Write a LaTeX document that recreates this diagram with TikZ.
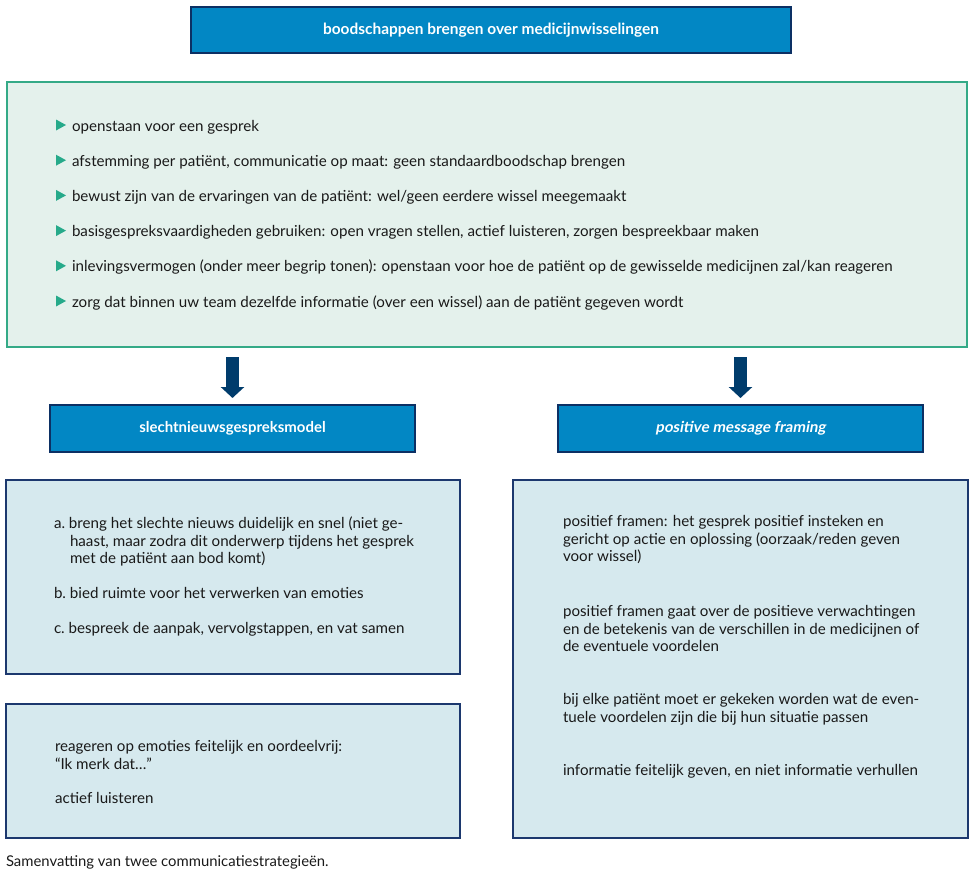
\documentclass[tikz,border=0pt]{standalone}
\usepackage{fontspec}
\setmainfont{Lato}
\newfontfamily\oblfont[FakeSlant=0.18]{Lato}
\usetikzlibrary{arrows.meta}
\definecolor{titleblue}{RGB}{2,135,196}
\definecolor{navy}{RGB}{12,48,100}
\definecolor{greenfill}{RGB}{228,241,236}
\definecolor{greenline}{RGB}{52,170,135}
\definecolor{bullet}{RGB}{38,170,138}
\definecolor{boxfill}{RGB}{214,233,238}
\definecolor{boxline}{RGB}{28,56,110}
\definecolor{arrowc}{RGB}{0,60,108}
\definecolor{txt}{RGB}{25,25,25}
\begin{document}
\begin{tikzpicture}[x=1bp,y=-1bp,
  every node/.style={inner sep=0pt, outer sep=0pt},
  headbox/.style={draw=navy, line width=1.8bp, fill=titleblue, text=white,
    font=\fontsize{15}{16}\selectfont\bfseries},
  greenbox/.style={draw=greenline, line width=1.8bp, fill=greenfill},
  contentbox/.style={draw=boxline, line width=1.8bp, fill=boxfill},
  bodytext/.style={text=txt, font=\fontsize{15.2}{17.5}\selectfont, align=left, anchor=north west},
  bulletline/.style={text=txt, font=\fontsize{15.2}{17.5}\selectfont, anchor=base west},
  bigarrow/.style={draw=arrowc, line width=13bp, -{Triangle[width=23bp,length=11bp]}}
]
\useasboundingbox (0,0) rectangle (975,877);
% boxes
\node[headbox, minimum width=600bp, minimum height=46bp, font=\fontsize{15.5}{17}\selectfont\bfseries] (title) at (491,30) {boodschappen brengen over medicijnwisselingen};
\node[greenbox, minimum width=960bp, minimum height=265bp] (green) at (487,214.5) {};
\node[headbox, minimum width=365bp, minimum height=47bp] (h1) at (232.5,428.5) {slechtnieuwsgespreksmodel};
\node[headbox, minimum width=365bp, minimum height=47bp, font=\fontsize{15.2}{16}\oblfont\bfseries] (h2) at (740.5,428.5) {positive message framing};
\node[contentbox, minimum width=454bp, minimum height=194bp] (c1) at (233,577) {};
\node[contentbox, minimum width=454bp, minimum height=134bp] (c2) at (233,771) {};
\node[contentbox, minimum width=455bp, minimum height=358bp] (c3) at (740.5,659) {};
% arrows
\draw[bigarrow] ([yshift=-10bp]green.south -| h1.north) -- ([yshift=7bp]h1.north);
\draw[bigarrow] ([yshift=-10bp]green.south -| h2.north) -- ([yshift=7bp]h2.north);
% bullets
\foreach \i/\t in {0/{openstaan voor een gesprek},
  1/{afstemming per patiënt, communicatie op maat: geen standaardboodschap brengen},
  2/{bewust zijn van de ervaringen van de patiënt: wel/geen eerdere wissel meegemaakt},
  3/{basisgespreksvaardigheden gebruiken: open vragen stellen, actief luisteren, zorgen bespreekbaar maken},
  4/{inlevingsvermogen (onder meer begrip tonen): openstaan voor hoe de patiënt op de gewisselde medicijnen zal/kan reageren},
  5/{zorg dat binnen uw team dezelfde informatie (over een wissel) aan de patiënt gegeven wordt}} {
  \pgfmathsetmacro{\yy}{131+35.2*\i}
  \fill[bullet] (56,\yy-11.5) -- (66,\yy-6) -- (56,\yy-0.5) -- cycle;
  \node[bulletline] (b\i) at (72,\yy) {\t};
}
% left content
\node[bodytext] (pa) at (54,529-12.25) {\strut a.~breng het slechte nieuws duidelijk en snel (niet ge-\\\hspace*{16bp}haast, maar zodra dit onderwerp tijdens het gesprek\\\hspace*{16bp}met de patiënt aan bod komt)};
\node[bodytext] (pb) at (54,599-12.25) {\strut b.~bied ruimte voor het verwerken van emoties};
\node[bodytext] (pc) at (54,634-12.25) {\strut c.~bespreek de aanpak, vervolgstappen, en vat samen};
\node[bodytext] (pd) at (55,752-12.25) {\strut reageren op emoties feitelijk en oordeelvrij:\\“Ik merk dat…”};
\node[bodytext] (pe) at (55,804-12.25) {\strut actief luisteren};
% right content
\node[bodytext] (r1) at (563,527-12.25) {\strut positief framen: het gesprek positief insteken en\\gericht op actie en oplossing (oorzaak/reden geven\\voor wissel)};
\node[bodytext] (r2) at (563,617-12.25) {\strut positief framen gaat over de positieve verwachtingen\\en de betekenis van de verschillen in de medicijnen of\\de eventuele voordelen};
\node[bodytext] (r3) at (563,705-12.25) {\strut bij elke patiënt moet er gekeken worden wat de even-\\tuele voordelen zijn die bij hun situatie passen};
\node[bodytext] (r4) at (563,776-12.25) {\strut informatie feitelijk geven, en niet informatie verhullen};
% caption
\node[text=txt, font=\fontsize{14.9}{16}\selectfont, anchor=base west] (cap) at (6,866) {Samenvatting van twee communicatiestrategieën.};
\end{tikzpicture}
\end{document}
